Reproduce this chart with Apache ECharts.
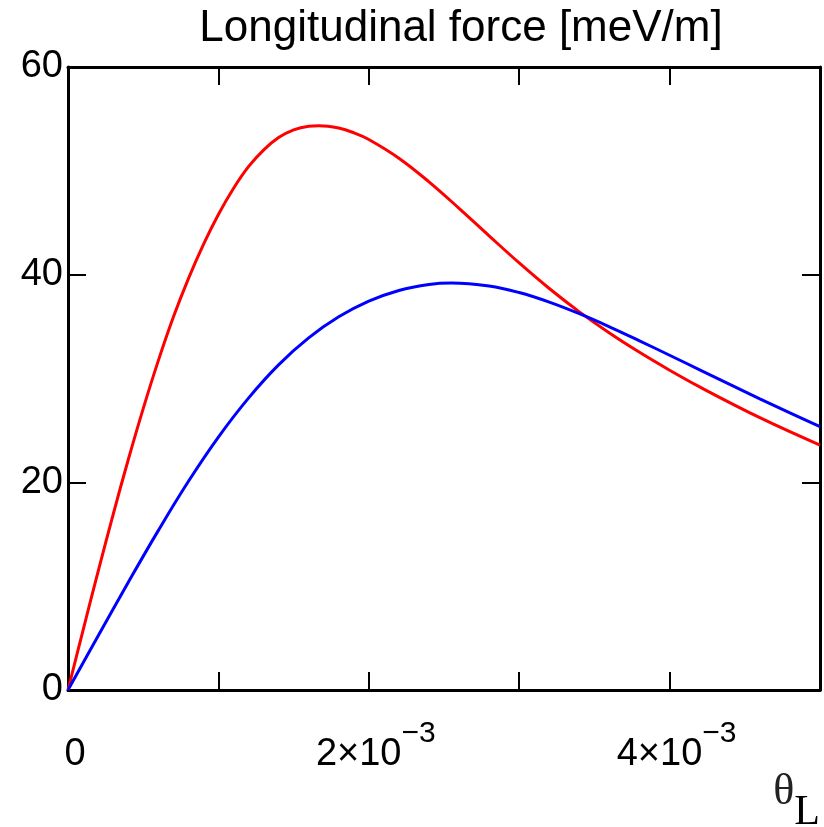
<!DOCTYPE html>
<html>
<head>
<meta charset="utf-8">
<script src="https://cdn.jsdelivr.net/npm/echarts@6/dist/echarts.min.js"></script>
<style>html,body{margin:0;padding:0;background:#fff}#c{width:824px;height:827px}</style>
</head>
<body>
<div id="c"></div>
<script>
// theta_L in units of 1e-3, force in meV/m
var thetaRed = [0, 0.1, 0.2, 0.3, 0.4, 0.5, 0.6, 0.7, 0.8, 0.9, 1.0, 1.1, 1.2, 1.3, 1.4, 1.5, 1.6, 1.67, 1.8, 1.9, 2.0, 2.2, 2.4, 2.6, 2.8, 3.0, 3.2, 3.4, 3.6, 3.8, 4.0, 4.2, 4.6, 5.0];
var forceRed = [0, 5.75, 11.4, 16.9, 22.15, 27.1, 31.7, 35.9, 39.6, 42.9, 45.8, 48.3, 50.4, 52.0, 53.2, 53.95, 54.3, 54.35, 54.12, 53.67, 53.02, 51.22, 48.94, 46.39, 43.74, 41.13, 38.67, 36.42, 34.38, 32.52, 30.8, 29.19, 26.23, 23.59];
var thetaBlue = [0, 0.2, 0.4, 0.6, 0.8, 1.0, 1.2, 1.4, 1.6, 1.8, 2.0, 2.2, 2.4, 2.55, 2.8, 3.0, 3.2, 3.4, 3.6, 3.8, 4.0, 4.2, 4.4, 4.6, 4.8, 5.0];
var forceBlue = [0, 5.2, 10.35, 15.35, 20.08, 24.36, 28.11, 31.31, 33.91, 35.94, 37.45, 38.48, 39.06, 39.2, 38.91, 38.28, 37.36, 36.24, 34.98, 33.63, 32.24, 30.84, 29.44, 28.04, 26.69, 25.37];
var xTickLabels = {0: '{b|0}', 2: '{b|2×10}{s|−3}', 4: '{b|4×10}{s|−3}'};
var yTickLabels = [0, 20, 40, 60];
var titleText = 'Longitudinal force [meV/m]';

function pairs(xs, ys) {
  var out = [];
  for (var i = 0; i < xs.length; i++) out.push([xs[i] * 1e-3, ys[i]]);
  return out;
}

var sans = "'Liberation Sans', Arial, sans-serif";
var serif = "'Liberation Serif', 'Times New Roman', serif";
var chart = echarts.init(document.getElementById('c'), null, {renderer: 'canvas'});
var axisLineStyle = {color: '#000', width: 3};
var tickStyle = {color: '#000', width: 2};

chart.setOption({
  animation: false,
  backgroundColor: '#fff',
  title: {
    text: titleText,
    left: 456,
    top: 2,
    textAlign: 'center',
    textStyle: {fontFamily: sans, fontSize: 44, fontWeight: 'normal', color: '#000'}
  },
  grid: {left: 68, right: 4, top: 67, bottom: 137, containLabel: false, outerBoundsMode: 'none'},
  xAxis: [{
    type: 'value', min: 0, max: 0.005, interval: 0.001, position: 'bottom',
    axisLine: {show: true, onZero: false, lineStyle: axisLineStyle},
    axisTick: {show: true, inside: true, length: 18, lineStyle: tickStyle},
    splitLine: {show: false},
    axisLabel: {
      margin: 29, padding: [0, 0, 0, 14],
      formatter: function (v) { var k = Math.round(v * 1000); return xTickLabels[k] || ''; },
      fontFamily: sans, fontSize: 38, color: '#000',
      rich: {
        b: {fontFamily: sans, fontSize: 38, color: '#000', lineHeight: 55, verticalAlign: 'bottom'},
        s: {fontFamily: sans, fontSize: 30, color: '#000', lineHeight: 30, verticalAlign: 'top'}
      }
    },
    name: '{t|θ}{l|L}',
    nameLocation: 'end', nameGap: 0,
    nameTextStyle: {
      align: 'right', verticalAlign: 'top', padding: [80, 0, 0, 0],
      rich: {
        t: {fontFamily: serif, fontSize: 44, color: '#222', lineHeight: 40, verticalAlign: 'top'},
        l: {fontFamily: serif, fontSize: 42, color: '#000', lineHeight: 64, verticalAlign: 'bottom'}
      }
    }
  }, {
    type: 'value', min: 0, max: 0.005, interval: 0.001, position: 'top',
    axisLine: {show: true, onZero: false, lineStyle: axisLineStyle},
    axisTick: {show: true, inside: true, length: 18, lineStyle: tickStyle},
    axisLabel: {show: false}, splitLine: {show: false}
  }],
  yAxis: [{
    type: 'value', min: 0, max: 60, interval: 20, position: 'left',
    axisLine: {show: true, onZero: false, lineStyle: axisLineStyle},
    axisTick: {show: true, inside: true, length: 18, lineStyle: tickStyle},
    splitLine: {show: false},
    axisLabel: {
      margin: 5, fontFamily: sans, fontSize: 38, color: '#000',
      formatter: function (v) { return yTickLabels.indexOf(v) >= 0 ? String(v) : ''; }
    }
  }, {
    type: 'value', min: 0, max: 60, interval: 20, position: 'right',
    axisLine: {show: true, onZero: false, lineStyle: axisLineStyle},
    axisTick: {show: true, inside: true, length: 18, lineStyle: tickStyle},
    axisLabel: {show: false}, splitLine: {show: false}
  }],
  series: [{
    type: 'line', name: 'red', xAxisIndex: 0, yAxisIndex: 0,
    data: pairs(thetaRed, forceRed), showSymbol: false, smooth: 0.4,
    lineStyle: {color: '#ff0000', width: 3}, itemStyle: {color: '#ff0000'}
  }, {
    type: 'line', name: 'blue', xAxisIndex: 0, yAxisIndex: 0,
    data: pairs(thetaBlue, forceBlue), showSymbol: false, smooth: 0.4,
    lineStyle: {color: '#0000ff', width: 3}, itemStyle: {color: '#0000ff'}
  }]
});
</script>
</body>
</html>
